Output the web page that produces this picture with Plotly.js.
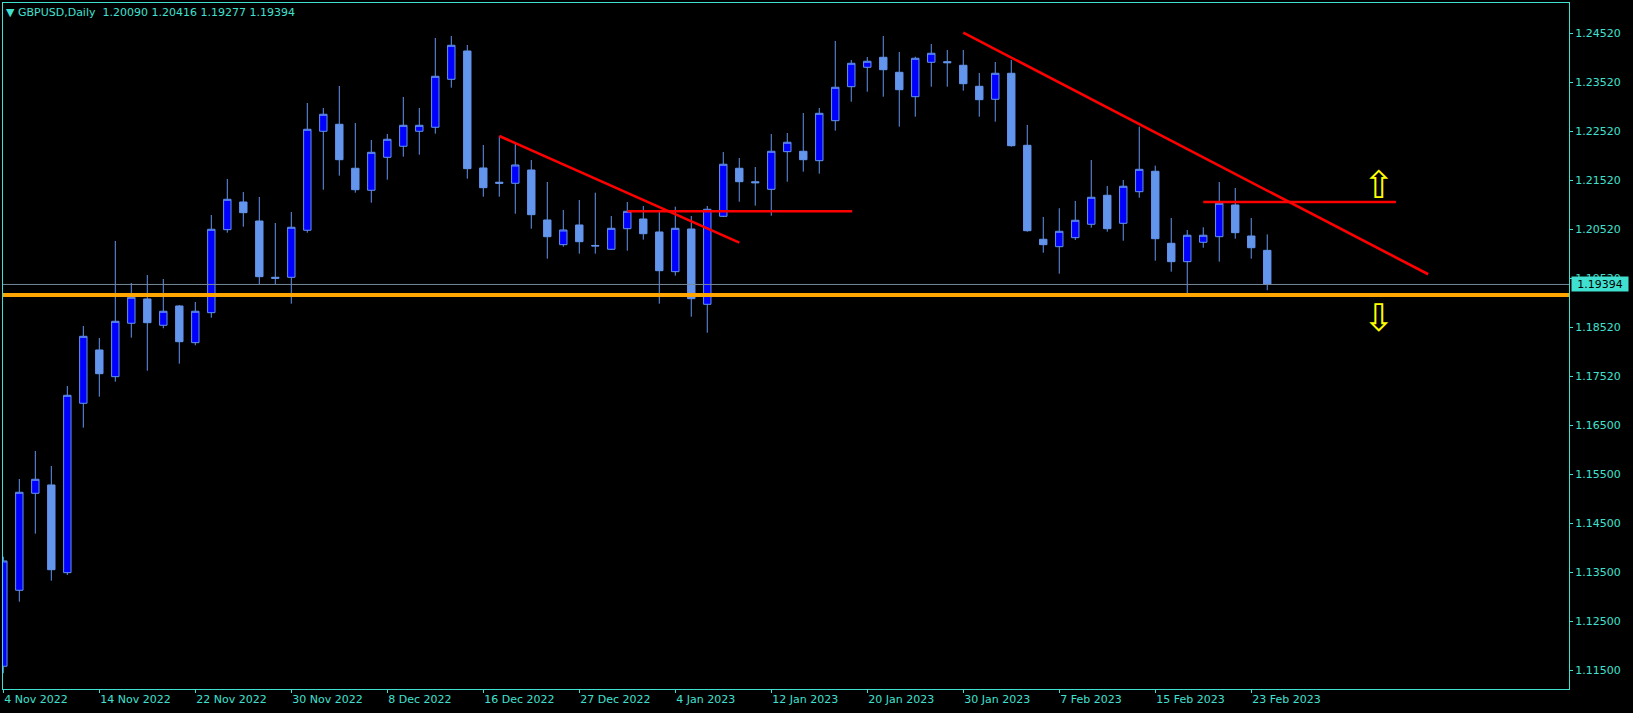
<!DOCTYPE html>
<html>
<head>
<meta charset="utf-8">
<script src="https://cdn.plot.ly/plotly-3.0.1.min.js"></script>
<style>html,body{margin:0;padding:0;background:#000;}#chart{width:1633px;height:713px;}</style>
</head>
<body>
<div id="chart"></div>
<script>
// ---- data ----
const dates = [
 '2022-11-04','2022-11-07','2022-11-08','2022-11-09','2022-11-10','2022-11-11','2022-11-14','2022-11-15','2022-11-16','2022-11-17',
 '2022-11-18','2022-11-21','2022-11-22','2022-11-23','2022-11-24','2022-11-25','2022-11-28','2022-11-29','2022-11-30','2022-12-01',
 '2022-12-02','2022-12-05','2022-12-06','2022-12-07','2022-12-08','2022-12-09','2022-12-12','2022-12-13','2022-12-14','2022-12-15',
 '2022-12-16','2022-12-19','2022-12-20','2022-12-21','2022-12-22','2022-12-23','2022-12-27','2022-12-28','2022-12-29','2022-12-30',
 '2023-01-02','2023-01-03','2023-01-04','2023-01-05','2023-01-06','2023-01-09','2023-01-10','2023-01-11','2023-01-12','2023-01-13',
 '2023-01-16','2023-01-17','2023-01-18','2023-01-19','2023-01-20','2023-01-23','2023-01-24','2023-01-25','2023-01-26','2023-01-27',
 '2023-01-30','2023-01-31','2023-02-01','2023-02-02','2023-02-03','2023-02-06','2023-02-07','2023-02-08','2023-02-09','2023-02-10',
 '2023-02-13','2023-02-14','2023-02-15','2023-02-16','2023-02-17','2023-02-20','2023-02-21','2023-02-22','2023-02-23','2023-02-24'
];
const openP = [
 1.11602,1.13153,1.15132,1.15302,1.13512,1.16969,1.18057,1.17512,1.18602,1.19098,
 1.18561,1.18955,1.18206,1.18818,1.20512,1.21077,1.20689,1.19540,1.19540,1.20500,
 1.22520,1.22663,1.21765,1.21316,1.21989,1.22214,1.22520,1.22602,1.23581,1.24159,
 1.21771,1.21480,1.21459,1.21730,1.20710,1.20206,1.20608,1.20190,1.20112,1.20532,
 1.20730,1.20465,1.19655,1.20526,1.18989,1.20785,1.21765,1.21490,1.21336,1.22104,
 1.22112,1.21920,1.22736,1.23430,1.23826,1.24030,1.23724,1.23226,1.23928,1.23940,
 1.23867,1.23438,1.23173,1.23704,1.22234,1.20316,1.20165,1.20349,1.20622,1.21214,
 1.20642,1.21287,1.21704,1.20234,1.19859,1.20255,1.20369,1.21016,1.20383,1.20090
];
const highP = [
 1.13838,1.15424,1.15996,1.15689,1.17322,1.18547,1.18302,1.20281,1.19424,1.19587,
 1.19506,1.18976,1.19036,1.20812,1.21547,1.21281,1.21179,1.20649,1.20873,1.23098,
 1.22996,1.23444,1.22689,1.22342,1.22465,1.23220,1.22996,1.24424,1.24465,1.24281,
 1.22240,1.22424,1.22261,1.21934,1.21485,1.20914,1.21118,1.21267,1.20791,1.21077,
 1.20996,1.20873,1.20981,1.20791,1.20996,1.22098,1.21975,1.21791,1.22465,1.22485,
 1.22893,1.22996,1.24363,1.23975,1.24036,1.24465,1.24138,1.24042,1.24302,1.24179,
 1.24179,1.23710,1.23934,1.23975,1.22649,1.20771,1.20949,1.21098,1.21934,1.21404,
 1.21526,1.22614,1.21818,1.20750,1.20506,1.20561,1.21485,1.21363,1.20750,1.20416
];
const lowP = [
 1.11459,1.12920,1.14308,1.13349,1.13465,1.16471,1.17104,1.17410,1.18308,1.17634,
 1.18500,1.17777,1.18153,1.18716,1.20451,1.20573,1.19404,1.19404,1.19002,1.20451,
 1.21328,1.21614,1.21267,1.21063,1.21532,1.22002,1.22042,1.22471,1.23410,1.21553,
 1.21185,1.21185,1.20838,1.20532,1.19920,1.20165,1.20022,1.20022,1.20100,1.20083,
 1.20308,1.19002,1.19573,1.18736,1.18410,1.20770,1.21083,1.21002,1.20798,1.21491,
 1.21696,1.21655,1.22532,1.23124,1.23328,1.23226,1.22614,1.22818,1.23430,1.23430,
 1.23349,1.22818,1.22716,1.22206,1.20470,1.20042,1.19614,1.20302,1.20553,1.20470,
 1.20287,1.21165,1.19879,1.19655,1.19159,1.20144,1.19859,1.20328,1.19920,1.19277
];
const closeP = [
 1.13751,1.15153,1.15418,1.13573,1.17132,1.18336,1.17573,1.18642,1.19132,1.18614,
 1.18847,1.18226,1.18847,1.20520,1.21132,1.20859,1.19553,1.19520,1.20561,1.22561,
 1.22867,1.21940,1.21328,1.22091,1.22357,1.22642,1.22642,1.23642,1.24275,1.21757,
 1.21369,1.21460,1.21832,1.20818,1.20369,1.20506,1.20267,1.20180,1.20540,1.20887,
 1.20430,1.19675,1.20540,1.19104,1.20928,1.21847,1.21491,1.21470,1.22112,1.22296,
 1.21940,1.22887,1.23418,1.23908,1.23949,1.23777,1.23369,1.24010,1.24112,1.23920,
 1.23491,1.23165,1.23704,1.22226,1.20491,1.20206,1.20479,1.20704,1.21173,1.20532,
 1.21398,1.21744,1.20328,1.19859,1.20398,1.20398,1.21051,1.20451,1.20144,1.19394
];
// x-axis labels (bar dates and their text)
const tickDates  = ['2022-11-04','2022-11-14','2022-11-22','2022-11-30','2022-12-08','2022-12-16','2022-12-27','2023-01-04','2023-01-12','2023-01-20','2023-01-30','2023-02-07','2023-02-15','2023-02-23'];
const tickLabels = ['4 Nov 2022','14 Nov 2022','22 Nov 2022','30 Nov 2022','8 Dec 2022','16 Dec 2022','27 Dec 2022','4 Jan 2023','12 Jan 2023','20 Jan 2023','30 Jan 2023','7 Feb 2023','15 Feb 2023','23 Feb 2023'];
// y-axis labels
const priceTicks  = [1.2452,1.2352,1.2252,1.2152,1.2052,1.1952,1.1852,1.1752,1.1652,1.1552,1.1452,1.1352,1.1252,1.1152];
const priceLabels = ['1.24520','1.23520','1.22520','1.21520','1.20520','1.19520','1.18520','1.17520','1.16500','1.15500','1.14500','1.13500','1.12500','1.11500'];
// drawn objects (bar position, price)
const trendStartBar   = [31, 39, 60, 75];
const trendStartPrice = [1.22424, 1.20887, 1.24532, 1.21077];
const trendEndBar     = [46.0, 53.06, 89.06, 87.04];
const trendEndPrice   = [1.20247, 1.20887, 1.19602, 1.21077];
const supportLevel = 1.19180;
const bidPrice = 1.19394;
const arrowBar   = [86, 86];
const arrowPrice = [1.21414, 1.18710];
const arrowGlyph = ['\u21E7', '\u21E9'];

// ---- chart ----
const TURQ = '#40E0D0';
const barIdx = dates.map((d, i) => i);
const last = closeP.length - 1;

const trace = {
  type: 'candlestick',
  x: barIdx,
  open: openP, high: highP, low: lowP, close: closeP,
  increasing: {line: {color: '#6495ED', width: 1}, fillcolor: '#0000FF'},
  decreasing: {line: {color: '#6495ED', width: 1}, fillcolor: '#6495ED'},
  whiskerwidth: 0,
  hoverinfo: 'skip',
  showlegend: false
};

const shapes = [];
shapes.push({type: 'line', xref: 'paper', yref: 'y', x0: 0, x1: 1, y0: bidPrice, y1: bidPrice,
  line: {color: '#778899', width: 1}, layer: 'above'});
shapes.push({type: 'line', xref: 'paper', yref: 'y', x0: 0, x1: 1, y0: supportLevel, y1: supportLevel,
  line: {color: '#FFA500', width: 4}, layer: 'above'});
for (let k = 0; k < trendStartBar.length; k++) {
  shapes.push({type: 'line', xref: 'x', yref: 'y',
    x0: trendStartBar[k], y0: trendStartPrice[k], x1: trendEndBar[k], y1: trendEndPrice[k],
    line: {color: '#FF0000', width: 2.6}, layer: 'above'});
}

const annotations = [];
annotations.push({xref: 'paper', yref: 'y', x: 1, y: bidPrice, xanchor: 'left', yanchor: 'middle', xshift: 2,
  text: bidPrice.toFixed(5), showarrow: false, bgcolor: TURQ, width: 54, height: 12, borderpad: 1,
  font: {family: 'DejaVu Sans', size: 11, color: '#000'}});
for (let k = 0; k < arrowBar.length; k++) {
  annotations.push({xref: 'x', yref: 'y', x: arrowBar[k], y: arrowPrice[k], xanchor: 'center', yanchor: 'middle',
    text: arrowGlyph[k], showarrow: false, font: {family: 'DejaVu Sans', size: 38, color: '#FFFF00'}});
}

const titleText = '\u25BC\u00A0GBPUSD,Daily\u00A0\u00A0' +
  [openP[last], highP[last], lowP[last], closeP[last]].map(v => v.toFixed(5)).join(' ');

const layout = {
  width: 1633, height: 713,
  margin: {l: 3, r: 64, t: 3, b: 24, pad: 0},
  paper_bgcolor: '#000', plot_bgcolor: '#000',
  showlegend: false,
  boxgap: 0.34,
  title: {text: titleText, xref: 'container', yref: 'container', x: 6 / 1633, xanchor: 'left',
    y: 1 - 12.5 / 713, yanchor: 'middle', font: {family: 'DejaVu Sans', size: 11, color: TURQ}},
  xaxis: {
    range: [-0.02, 97.86], showgrid: false, zeroline: false,
    showline: true, linecolor: TURQ, linewidth: 1, mirror: true,
    ticks: 'outside', ticklen: 3, tickcolor: TURQ, tickwidth: 1,
    tickvals: tickDates.map(d => dates.indexOf(d)), ticktext: tickLabels,
    ticklabelposition: 'outside right',
    tickfont: {family: 'DejaVu Sans', size: 11, color: TURQ},
    rangeslider: {visible: false}, fixedrange: true
  },
  yaxis: {
    side: 'right', range: [1.11138, 1.25138], showgrid: false, zeroline: false,
    showline: true, linecolor: TURQ, linewidth: 1, mirror: true,
    ticks: 'outside', ticklen: 3, tickcolor: TURQ, tickwidth: 1,
    tickvals: priceTicks, ticktext: priceLabels,
    tickfont: {family: 'DejaVu Sans', size: 11, color: TURQ}, fixedrange: true
  },
  shapes: shapes,
  annotations: annotations
};

Plotly.newPlot('chart', [trace], layout, {displayModeBar: false, staticPlot: true});
</script>
</body>
</html>
